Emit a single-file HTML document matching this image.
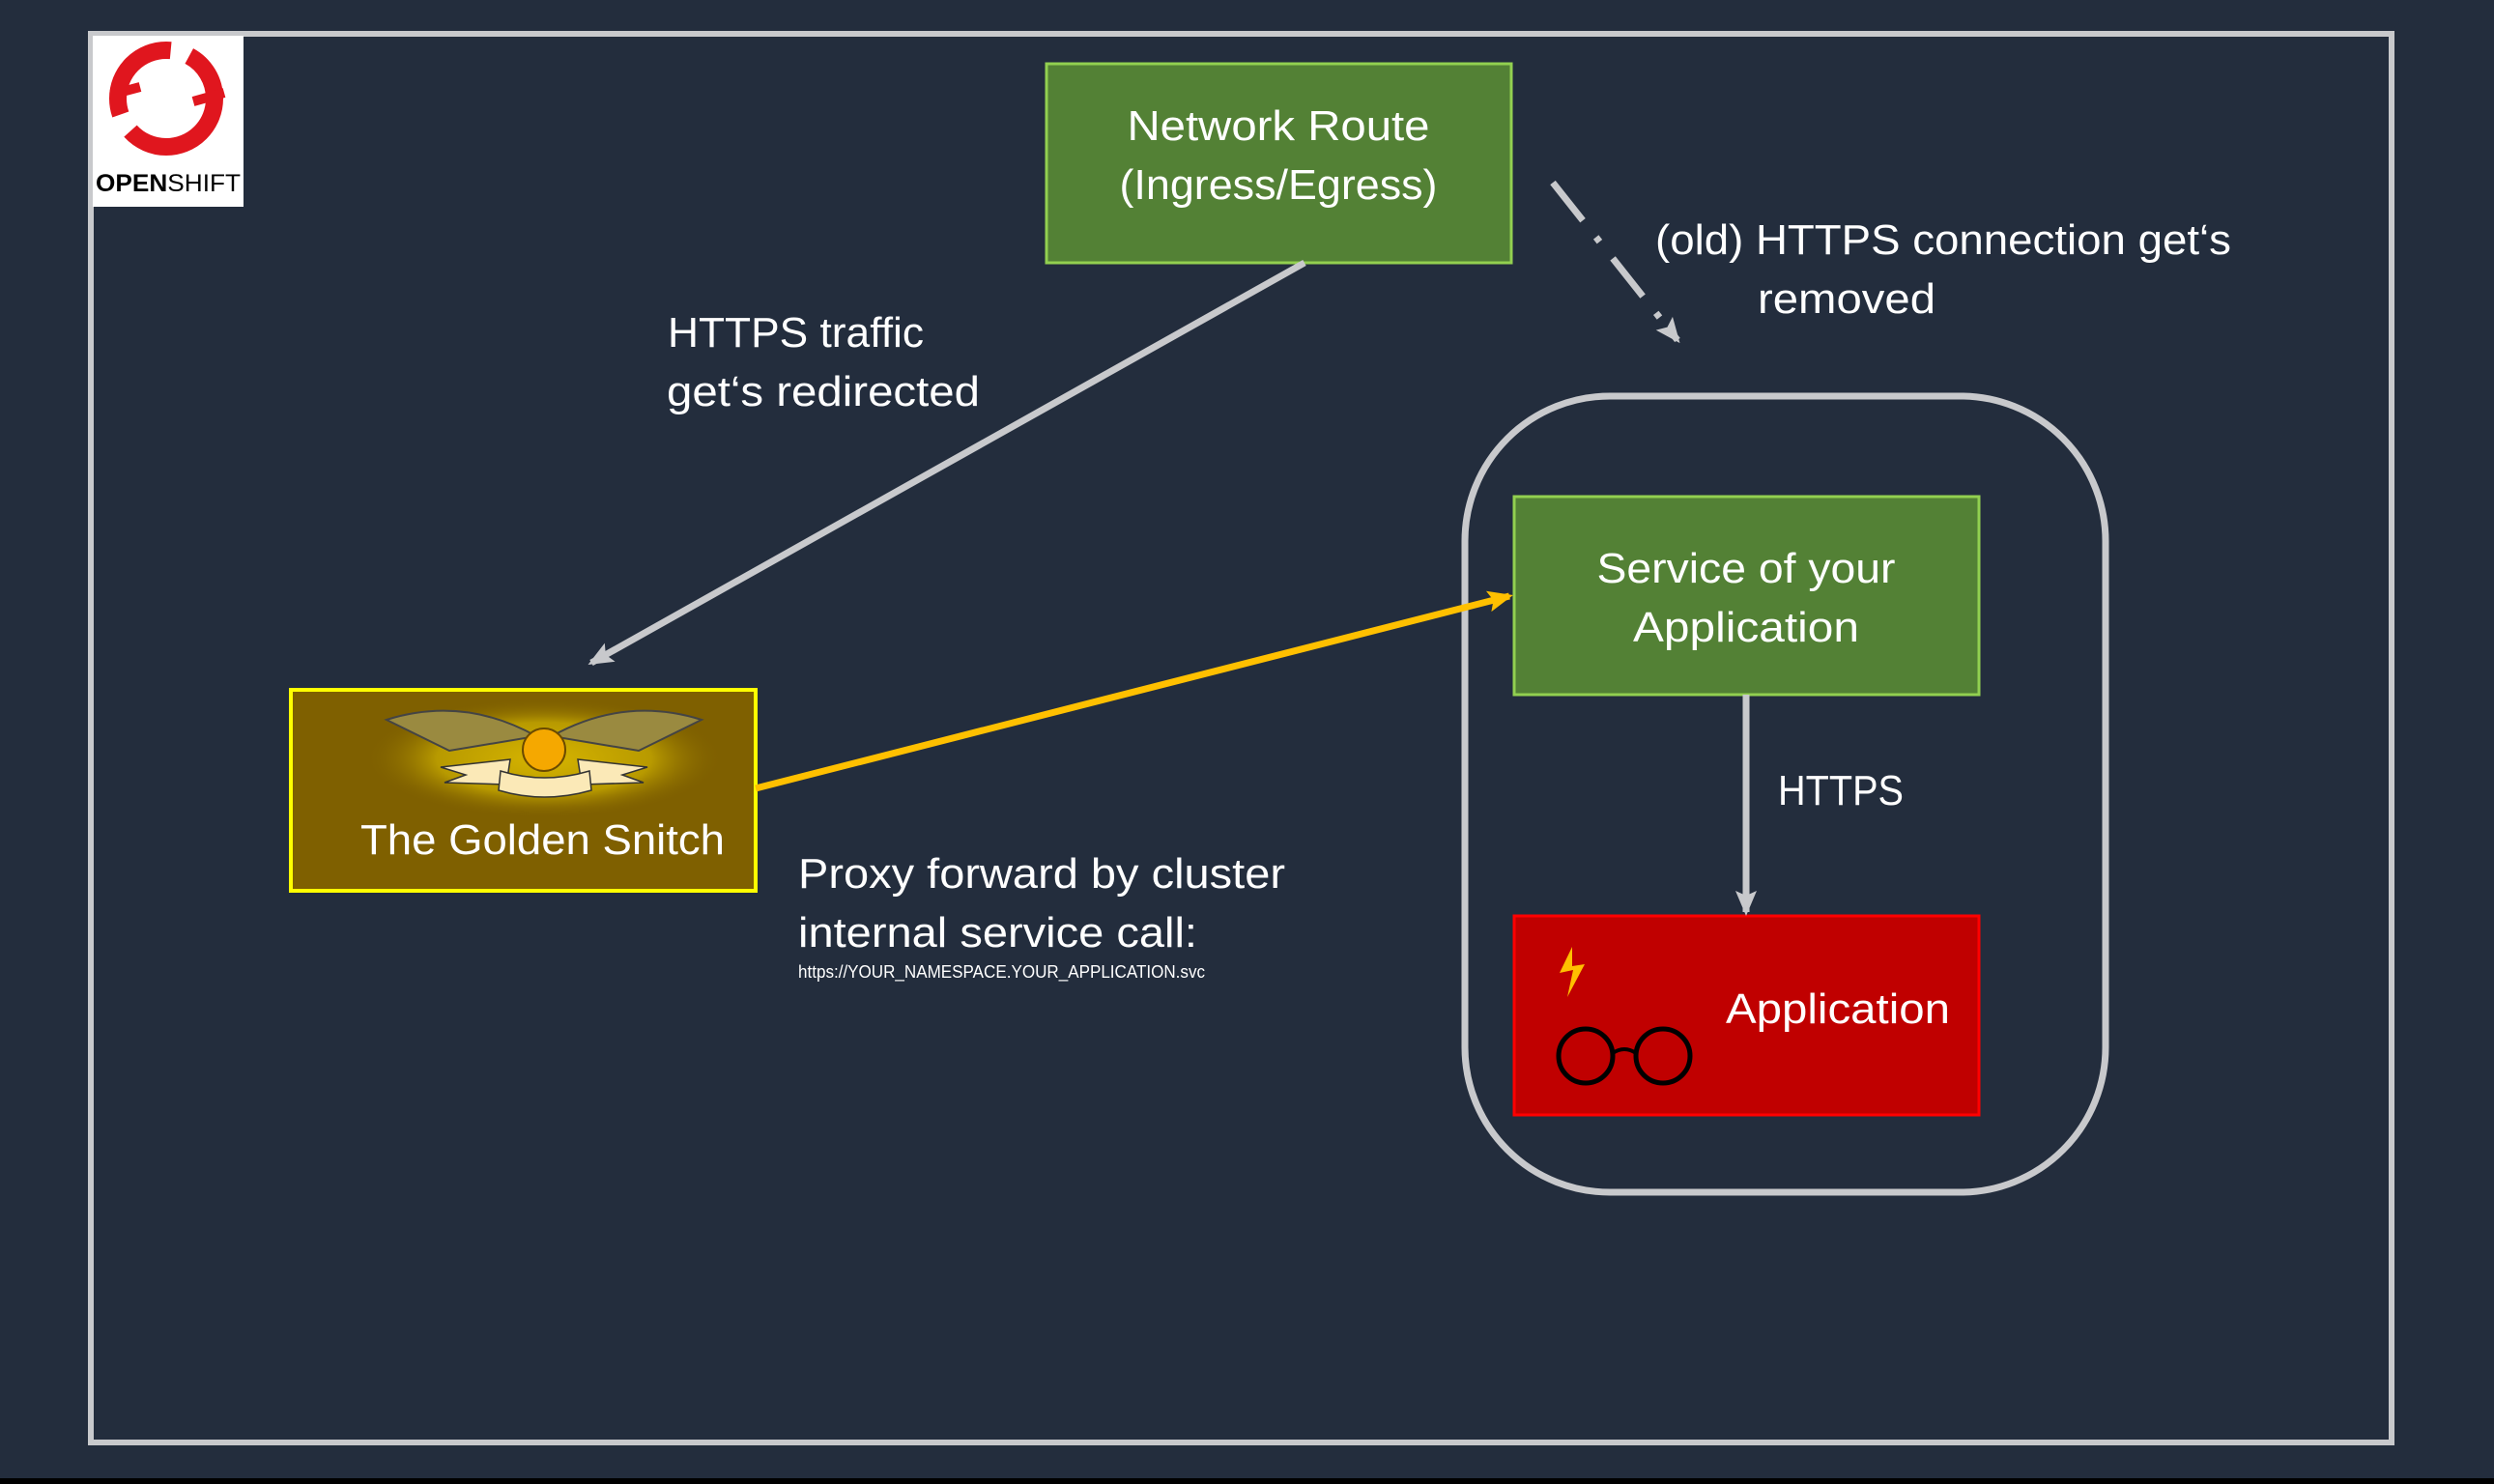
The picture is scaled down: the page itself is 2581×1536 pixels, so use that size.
<!DOCTYPE html>
<html><head><meta charset="utf-8"><style>
html,body{margin:0;padding:0;background:#232d3d;}
svg{display:block;}
text{font-family:"Liberation Sans",sans-serif;fill:#fff;}
</style></head><body>
<svg width="2581" height="1536" viewBox="0 0 2581 1536" xmlns="http://www.w3.org/2000/svg">
<defs>
<marker id="ag" markerWidth="28" markerHeight="28" refX="22" refY="14" orient="auto" markerUnits="userSpaceOnUse"><path d="M0,3 L26,14 L0,25 L5,14 Z" fill="#c8c9cc"/></marker>
<marker id="ay" markerWidth="28" markerHeight="28" refX="22" refY="14" orient="auto" markerUnits="userSpaceOnUse"><path d="M0,3 L26,14 L0,25 L5,14 Z" fill="#ffc000"/></marker>
<radialGradient id="glow"><stop offset="0" stop-color="#d6b400"/><stop offset="0.6" stop-color="#b89a00"/><stop offset="1" stop-color="#7f6000" stop-opacity="0"/></radialGradient>
</defs>
<rect x="0" y="0" width="2581" height="1536" fill="#232d3d"/>
<rect x="0" y="1530" width="2581" height="6" fill="#000"/>
<rect x="94" y="35" width="2381" height="1458" fill="none" stroke="#c8c9cc" stroke-width="6"/>
<!-- logo -->
<rect x="96" y="37" width="156" height="177" fill="#fff"/>
<circle cx="172" cy="102" r="50" fill="none" stroke="#e0161e" stroke-width="18" stroke-dasharray="120 20 100 20" />
<path d="M115 98 L145 90 M200 105 L232 96" stroke="#e0161e" stroke-width="10"/>
<text x="174" y="198" font-size="25" text-anchor="middle" style="fill:#000" textLength="150" lengthAdjust="spacingAndGlyphs"><tspan font-weight="bold">OPEN</tspan>SHIFT</text>
<!-- container -->
<rect x="1516" y="410" width="663" height="824" rx="150" ry="150" fill="none" stroke="#c8c9cc" stroke-width="7"/>
<!-- boxes -->
<rect x="1083" y="66" width="481" height="206" fill="#538135" stroke="#92d050" stroke-width="3"/>
<rect x="1567" y="514" width="481" height="205" fill="#538135" stroke="#92d050" stroke-width="3"/>
<rect x="1567" y="948" width="481" height="206" fill="#c00000" stroke="#ff0000" stroke-width="3"/>
<rect x="301" y="714" width="481" height="208" fill="#7f6000" stroke="#ffff00" stroke-width="4"/>
<!-- snitch -->
<ellipse cx="563" cy="785" rx="185" ry="62" fill="url(#glow)"/>
<path d="M400 745 Q480 720 555 762 L465 777 Z" fill="#9a8a40" stroke="#444" stroke-width="2"/>
<path d="M726 745 Q646 720 571 762 L661 777 Z" fill="#9a8a40" stroke="#444" stroke-width="2"/>
<path d="M456 794 L528 786 L524 812 L460 810 L482 802 Z" fill="#fbe9b7" stroke="#333" stroke-width="1.5"/>
<path d="M670 794 L598 786 L602 812 L666 810 L644 802 Z" fill="#fbe9b7" stroke="#333" stroke-width="1.5"/>
<path d="M518 798 Q563 812 610 798 L612 818 Q563 832 516 818 Z" fill="#fbe9b7" stroke="#333" stroke-width="1.5"/>
<circle cx="563" cy="776" r="22" fill="#f5a800" stroke="#6a4a00" stroke-width="2"/>
<!-- glasses & bolt -->
<circle cx="1641" cy="1093" r="28" fill="none" stroke="#000" stroke-width="5"/>
<circle cx="1721" cy="1093" r="28" fill="none" stroke="#000" stroke-width="5"/>
<path d="M1669 1090 Q1681 1082 1693 1090" fill="none" stroke="#000" stroke-width="4"/>
<path d="M1627 980 L1614 1007 L1628 1004 L1622 1032 L1640 998 L1627 1000 Z" fill="#ffc000"/>
<!-- arrows -->
<line x1="1350" y1="272" x2="612" y2="686" stroke="#c8c9cc" stroke-width="7" marker-end="url(#ag)"/>
<line x1="782" y1="816" x2="1562" y2="617" stroke="#ffc000" stroke-width="7" marker-end="url(#ay)"/>
<line x1="1807" y1="719" x2="1807" y2="944" stroke="#c8c9cc" stroke-width="7" marker-end="url(#ag)"/>
<line x1="1607" y1="189" x2="1736" y2="352" stroke="#c8c9cc" stroke-width="7" stroke-dasharray="50 22 6 22" marker-end="url(#ag)"/>
<!-- text -->
<g font-size="44">
<text x="1323" y="145" text-anchor="middle" textLength="313" lengthAdjust="spacingAndGlyphs">Network Route</text>
<text x="1323" y="206" text-anchor="middle" textLength="329" lengthAdjust="spacingAndGlyphs">(Ingress/Egress)</text>
<text x="1713" y="263" textLength="596" lengthAdjust="spacingAndGlyphs">(old) HTTPS connection get‘s</text>
<text x="1911" y="324" text-anchor="middle" textLength="184" lengthAdjust="spacingAndGlyphs">removed</text>
<text x="691" y="359" textLength="265" lengthAdjust="spacingAndGlyphs">HTTPS traffic</text>
<text x="690" y="420" textLength="324" lengthAdjust="spacingAndGlyphs">get‘s redirected</text>
<text x="1807" y="603" text-anchor="middle" textLength="309" lengthAdjust="spacingAndGlyphs">Service of your</text>
<text x="1807" y="664" text-anchor="middle" textLength="234" lengthAdjust="spacingAndGlyphs">Application</text>
<text x="1840" y="833" textLength="130" lengthAdjust="spacingAndGlyphs">HTTPS</text>
<text x="826" y="919" textLength="504" lengthAdjust="spacingAndGlyphs">Proxy forward by cluster</text>
<text x="826" y="980" textLength="413" lengthAdjust="spacingAndGlyphs">internal service call:</text>
<text x="1786" y="1059" textLength="232" lengthAdjust="spacingAndGlyphs">Application</text>
<text x="373" y="884" textLength="377" lengthAdjust="spacingAndGlyphs">The Golden Snitch</text>
</g>
<text x="826" y="1012" font-size="18" textLength="421" lengthAdjust="spacingAndGlyphs">https://YOUR_NAMESPACE.YOUR_APPLICATION.svc</text>
</svg>
</body></html>
